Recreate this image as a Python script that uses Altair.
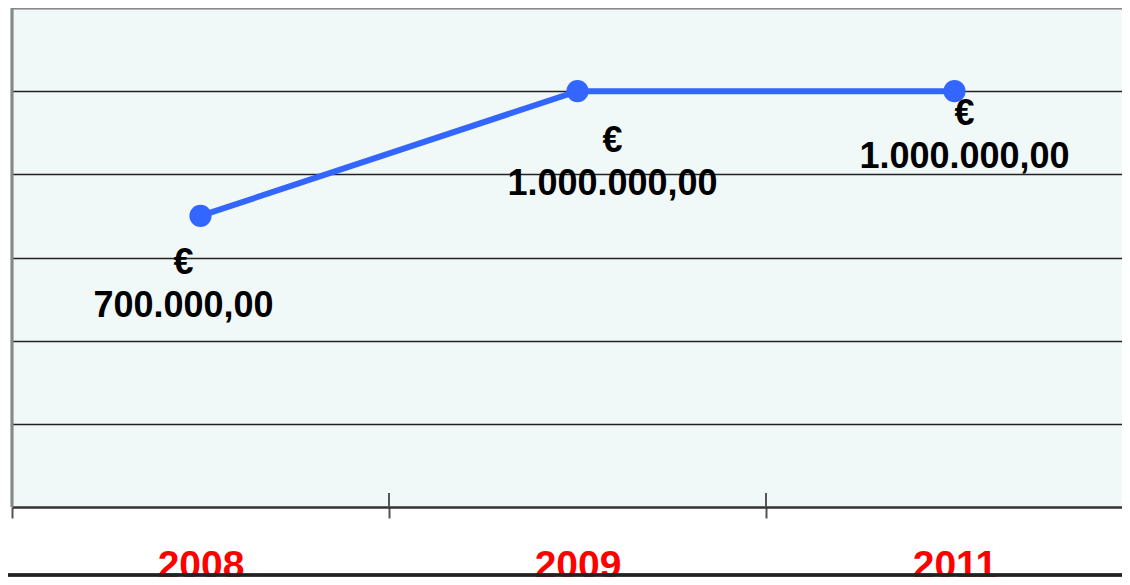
import altair as alt
import pandas as pd

years = ["2008", "2009", "2011"]
values = [700000, 1000000, 1000000]


def fmt(v):
    s = f"{v:,.2f}"
    s = s.replace(",", "X").replace(".", ",").replace("X", ".")
    return s


df = pd.DataFrame({
    "year": years,
    "value": values,
    "label": [["€", fmt(v)] for v in values],
})

BLUE = "#3366FF"
W = 1110
H = 499
xscale = alt.Scale(domain=years, range=[0, 1131], paddingInner=0, paddingOuter=0)
yscale = alt.Scale(domain=[0, 1200000], nice=False)

base = alt.Chart(df)

x_enc = alt.X(
    "year:N",
    scale=xscale,
    title=None,
    axis=alt.Axis(
        tickBand="extent",
        grid=False,
        labelAngle=0,
        labelFontSize=39,
        labelFont="Liberation Sans",
        labelFontWeight="bold",
        labelColor="#FF0000",
        labelPadding=28,
        tickSize=11,
        tickWidth=2,
        tickColor="#555555",
        domainColor="#333333",
        domainWidth=2.5,
    ),
)
y_enc = alt.Y(
    "value:Q",
    scale=yscale,
    title=None,
    axis=alt.Axis(
        values=[200000, 400000, 600000, 800000, 1000000],
        labels=False,
        ticks=False,
        domain=False,
        grid=True,
        gridColor="#222222",
        gridWidth=1.5,
    ),
)

line = base.mark_line(color=BLUE, strokeWidth=6).encode(x=x_enc, y=y_enc)
points = base.mark_circle(color=BLUE, opacity=1, size=490).encode(
    x=alt.X("year:N", scale=xscale), y=alt.Y("value:Q", scale=yscale)
)

inner_ticks = base.mark_rule(color="#555555", strokeWidth=2).encode(
    x=alt.X("year:N", scale=xscale, bandPosition=0),
    y=alt.value(485),
    y2=alt.value(499),
)

left_border = base.mark_rule(color="#888888", strokeWidth=2.5).encode(
    x=alt.value(0), y=alt.value(0), y2=alt.value(H)
)
top_border = base.mark_rule(color="#888888", strokeWidth=2.5).encode(
    x=alt.value(0), x2=alt.value(W), y=alt.value(0)
)

offsets = {"2008": (-17, 30), "2009": (35, 33), "2011": (10, 6)}
texts = []
for yr in years:
    dx, dy = offsets[yr]
    texts.append(
        base.transform_filter(alt.datum.year == yr)
        .mark_text(
            font="Liberation Sans",
            fontWeight="bold",
            fontSize=36,
            lineHeight=43,
            baseline="top",
            align="center",
            color="#000000",
            dx=dx,
            dy=dy,
        )
        .encode(
            x=alt.X("year:N", scale=xscale),
            y=alt.Y("value:Q", scale=yscale),
            text="label",
        )
    )

bottom_rule = base.mark_rule(color="#222222", strokeWidth=3).encode(
    x=alt.value(-4), x2=alt.value(W), y=alt.value(567)
)

chart = (
    alt.layer(line, inner_ticks, left_border, top_border, points, *texts, bottom_rule)
    .properties(
        width=W,
        height=H,
        autosize=alt.AutoSizeParams(type="none"),
        padding={"left": 4, "top": 0, "right": 0, "bottom": 70},
        background="#FFFFFF",
    )
    .configure_view(fill="#F1F9F8", stroke=None)
)

chart.save("out.html", embed_options={"renderer": "svg", "actions": False})
